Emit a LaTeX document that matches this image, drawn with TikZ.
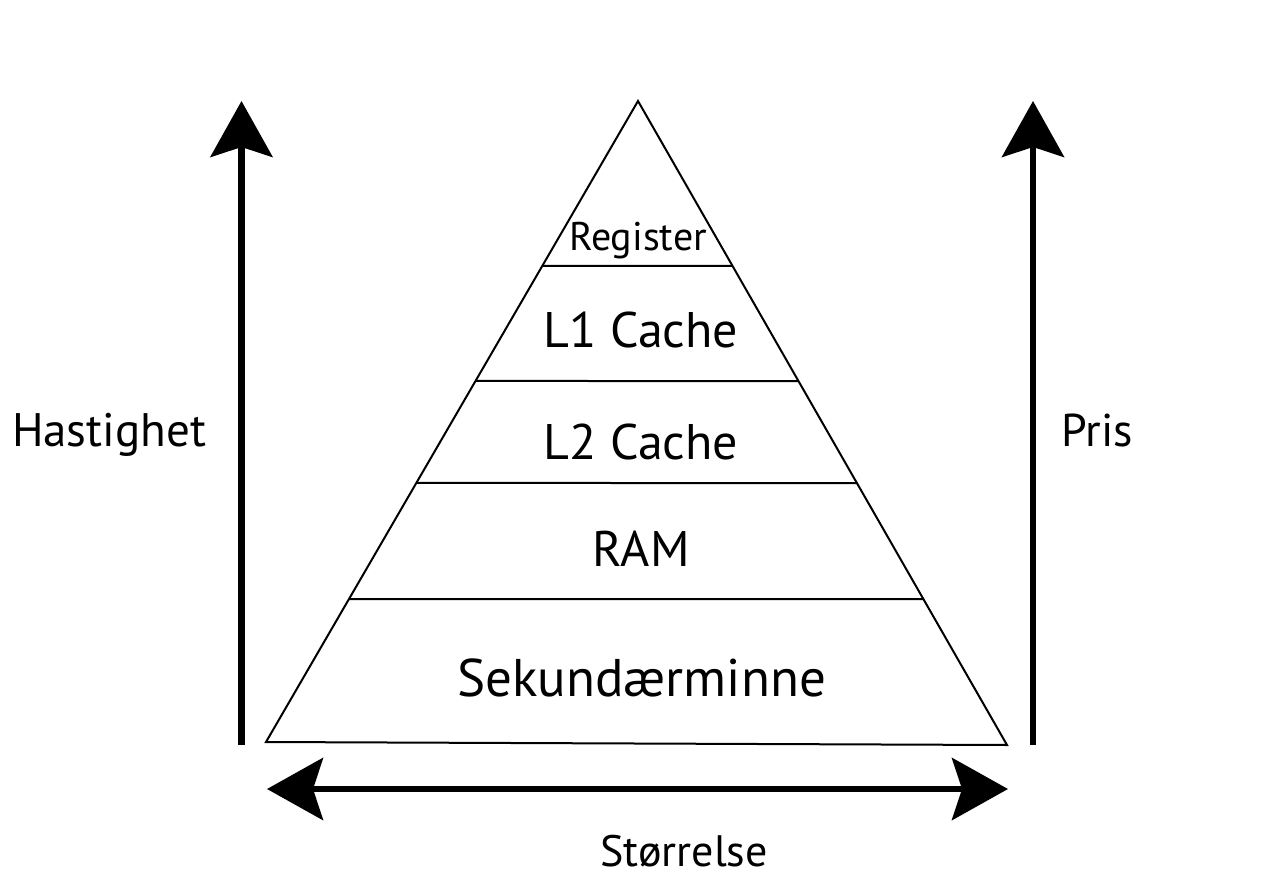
\documentclass[tikz,border=0pt]{standalone}
\usepackage{fontspec}
\setmainfont{PT Sans}
\usetikzlibrary{arrows.meta,calc}
\begin{document}
\begin{tikzpicture}[x=1pt,y=-1pt,
  edge/.style={line width=2pt,line join=miter},
  bigarrow/.style={line width=6.5pt,-{Stealth[length=56pt,width=62pt,inset=10pt]}},
  bigarrows/.style={line width=6.5pt,{Stealth[length=56pt,width=62pt,inset=10pt]}-{Stealth[length=56pt,width=62pt,inset=10pt]}},
  lab/.style={anchor=base,inner sep=0pt,font=\fontsize{50}{60}\selectfont}]
\useasboundingbox (0,0) rectangle (1271,891);
% triangle
\coordinate (A) at (638,101);
\coordinate (B) at (266,742);
\coordinate (C) at (1007,745);
\draw[edge] (A) -- (B) -- (C) -- cycle;
\coordinate (l1) at ($(A)!0.2574!(B)$); \coordinate (r1) at ($(A)!0.2562!(C)$);
\coordinate (l2) at ($(A)!0.4368!(B)$); \coordinate (r2) at ($(A)!0.4348!(C)$);
\coordinate (l3) at ($(A)!0.5959!(B)$); \coordinate (r3) at ($(A)!0.5932!(C)$);
\coordinate (l4) at ($(A)!0.7769!(B)$); \coordinate (r4) at ($(A)!0.7733!(C)$);
\draw[edge] (l1) -- (r1);
\draw[edge] (l2) -- (r2);
\draw[edge] (l3) -- (r3);
\draw[edge] (l4) -- (r4);
% labels
\node[lab,font=\fontsize{40}{48}\selectfont] (reg) at (638,250) {Register};
\node[lab] (l1c) at (641,347) {L1 Cache};
\node[lab] (l2c) at (641,459) {L2 Cache};
\node[lab] (ram) at (641,566) {RAM};
\node[lab,font=\fontsize{53}{62}\selectfont] (sek) at (641.5,696) {Sekundærminne};
\node[lab,font=\fontsize{47}{56}\selectfont] (has) at (109,446) {Hastighet};
\node[lab,font=\fontsize{46}{56}\selectfont] (pris) at (1097.5,446) {Pris};
\node[lab,font=\fontsize{44}{52}\selectfont] (stor) at (684,866) {Størrelse};
% arrows
\coordinate (hb) at (241.5,745); \coordinate (ht) at (241.5,101);
\coordinate (pb) at (1033,745); \coordinate (pt) at (1033,101);
\coordinate (sl) at (267,789); \coordinate (sr) at (1008,789);
\draw[bigarrow] (hb) -- (ht);
\draw[bigarrow] (pb) -- (pt);
\draw[bigarrows] (sl) -- (sr);
\end{tikzpicture}
\end{document}
